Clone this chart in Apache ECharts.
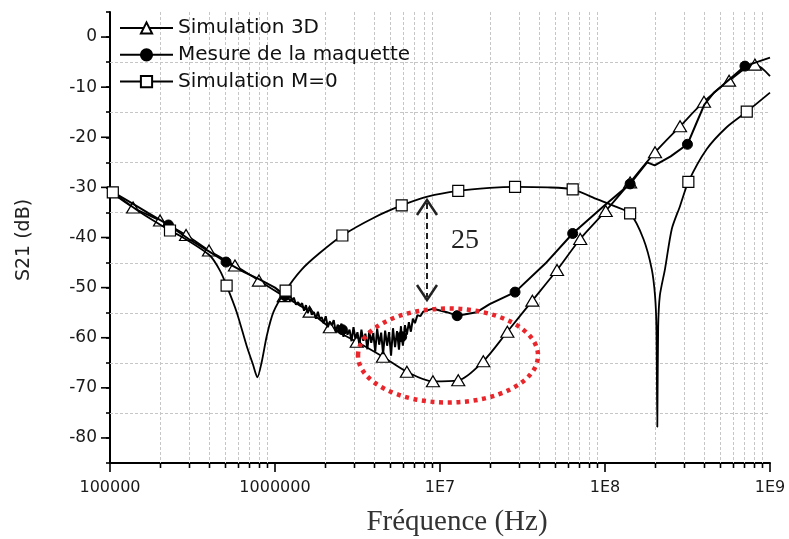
<!DOCTYPE html>
<html><head><meta charset="utf-8">
<script src="https://cdn.jsdelivr.net/npm/echarts@6/dist/echarts.min.js"></script>
<style>html,body{margin:0;padding:0;background:#fff}#c{width:789px;height:539px}</style>
</head><body><div id="c"></div>
<script>
// ---- Data (frequency in Hz, S21 in dB) ----
const seriesNames = ['Simulation 3D', 'Mesure de la maquette', 'Simulation M=0'];

// Simulation 3D: marker points (triangles) + extra curve points
const sim3dMarkFreq = [1.38e5,2.01e5,2.89e5,3.98e5,5.72e5,7.99e5,1.13e6,1.62e6,2.15e6,3.13e6,4.51e6,6.3e6,9.06e6,1.29e7,1.83e7,2.56e7,3.63e7,5.12e7,7.08e7,1.01e8,1.42e8,2.01e8,2.85e8,3.98e8,5.65e8,8.1e8];
const sim3dMarkDb   = [-34.0,-36.6,-39.5,-42.6,-45.6,-48.6,-51.7,-54.8,-57.9,-60.8,-63.8,-66.8,-68.7,-68.5,-64.7,-58.8,-52.6,-46.5,-40.3,-34.7,-29.0,-23.0,-17.8,-12.9,-8.7,-5.5];
const sim3dCurveFreq = [1e5, 1e9];
const sim3dCurveDb   = [-30.8, -7.8];

// Mesure de la maquette: marker points (filled circles) + measured curve
const mesMarkFreq = [2.26e5,5.05e5,1.15e6,2.56e6,5.86e6,1.27e7,2.85e7,6.37e7,1.42e8,3.16e8,7.05e8];
const mesMarkDb   = [-37.5,-44.9,-51.6,-58.4,-59.8,-55.6,-50.9,-39.2,-29.3,-21.4,-5.8];
const mesCurveFreq = [1e5,1.3e5,1.7e5,3.0e5,4.0e5,6.5e5,8.0e5,1.0e6,
 1.20e6,1.23e6,1.27e6,1.30e6,1.34e6,1.38e6,1.42e6,1.46e6,1.50e6,1.54e6,
 1.58e6,1.63e6,1.67e6,1.72e6,1.77e6,1.82e6,1.87e6,1.92e6,1.97e6,2.03e6,
 2.09e6,2.15e6,2.21e6,2.27e6,2.33e6,2.40e6,2.46e6,2.53e6,2.60e6,2.68e6,
 2.75e6,2.83e6,2.91e6,2.99e6,3.07e6,3.16e6,3.25e6,3.34e6,3.43e6,3.53e6,
 3.63e6,3.73e6,3.83e6,3.94e6,4.05e6,4.16e6,4.28e6,4.40e6,4.52e6,4.65e6,
 4.78e6,4.91e6,5.05e6,5.19e6,5.34e6,5.49e6,5.64e6,5.80e6,5.96e6,6.13e6,
 6.30e6,6.48e6,6.66e6,6.85e6,7.05e6,7.3e6,7.6e6,7.9e6,
 9.1e6,1.1e7,1.67e7,2.0e7,4.35e7,1.0e8,1.8e8,2.0e8,2.5e8,3.6e8,4.0e8,4.6e8,5.6e8,1e9];
const mesCurveDb = [-30.6,-32.8,-35.1,-40.3,-42.8,-46.9,-48.3,-50.0,
 -52.0,-51.4,-52.6,-52.0,-53.4,-52.9,-53.6,-53.1,-54.6,-53.5,
 -55.1,-54.0,-55.4,-54.9,-56.2,-54.8,-56.3,-55.9,-57.1,-55.7,
 -57.9,-56.8,-57.5,-56.5,-58.8,-57.4,-58.3,-57.2,-59.8,-57.9,
 -59.4,-58.4,-60.7,-57.9,-60.2,-58.9,-61.5,-58.4,-60.6,-59.2,
 -62.3,-58.6,-61.0,-59.1,-62.8,-58.2,-61.4,-59.0,-63.3,-58.6,
 -61.6,-58.9,-63.6,-58.1,-61.9,-58.7,-62.4,-57.7,-61.6,-57.5,
 -59.4,-56.9,-58.8,-56.2,-57.1,-55.5,-55.7,-54.8,
 -54.2,-54.9,-54.9,-53.3,-45.2,-33.5,-25.0,-25.6,-23.8,-17.0,-13.5,-11.0,-8.6,-4.1];

// Simulation M=0: marker points (open squares) + extra curve points
const m0MarkFreq = [1.04e5,2.31e5,5.09e5,1.16e6,2.56e6,5.86e6,1.29e7,2.85e7,6.37e7,1.42e8,3.2e8,7.23e8];
const m0MarkDb   = [-31.0,-38.6,-49.6,-50.6,-39.6,-33.6,-30.7,-29.9,-30.4,-35.2,-28.9,-14.9];
const m0CurveFreq = [1e5,1.5e5,2.77e5,4.03e5,4.64e5,5.86e5,6.73e5,7.38e5,7.82e5,8.3e5,8.92e5,9.78e5,
 1.45e6,1.85e6,4.0e6,8.5e6,2.0e7,4.5e7,9.0e7,1.15e8,1.71e8,1.92e8,2.01e8,2.05e8,2.075e8,2.1e8,2.15e8,2.31e8,2.54e8,2.85e8,4.13e8,5.46e8,1e9];
const m0CurveDb = [-30.6,-34.8,-40.0,-43.6,-46.6,-54.9,-61.6,-65.5,-67.9,-64.9,-59.6,-54.9,
 -46.4,-43.2,-36.0,-31.8,-30.1,-30.0,-32.4,-33.8,-40.3,-46.3,-51.6,-58.0,-77.8,-58.0,-51.6,-46.3,-38.3,-33.7,-22.4,-18.0,-11.1];

// Axis ticks
const xMajorTicks = [1e5, 1e6, 1e7, 1e8, 1e9];
const xTickLabels = ['100000', '1000000', '1E7', '1E8', '1E9'];
const yLabelTicks = [-80,-70,-60,-50,-40,-30,-20,-10,0];
const yMinorGrid = [-75,-65,-55,-45,-35,-25,-15,-5];

// ---- Build ----
function build(cf, cd, mf, md) {
  const pts = [];
  cf.forEach((f, i) => pts.push({ value: [f, cd[i]], symbol: 'none' }));
  mf.forEach((f, i) => pts.push({ value: [f, md[i]] }));
  pts.sort((a, b) => a.value[0] - b.value[0]);
  return pts;
}
const xMinor = [];
for (let k = 0; k < xMajorTicks.length - 1; k++) {
  for (let m = 2; m <= 9; m++) xMinor.push([xMajorTicks[k] * m, -85]);
}

const FONT = 'DejaVu Sans, Liberation Sans, Arial';
const chart = echarts.init(document.getElementById('c'), null, { renderer: 'canvas' });
const gridStroke = '#c6c6c6';
chart.setOption({
  animation: false,
  backgroundColor: '#fff',
  grid: { left: 110, right: 19, top: 12, bottom: 76 },
  legend: {
    data: seriesNames, orient: 'vertical', left: 119, top: 18, padding: 0,
    itemWidth: 53, itemHeight: 14, itemGap: 6.8, selectedMode: false,
    textStyle: { fontFamily: FONT, fontSize: 20, lineHeight: 20, color: '#111' }
  },
  xAxis: {
    type: 'log', logBase: 10, min: 1e5, max: 1e9,
    axisLine: { show: true, onZero: false, lineStyle: { color: '#000', width: 2 } },
    axisTick: { show: true, length: 9, lineStyle: { color: '#000', width: 1.6 } },
    axisLabel: {
      margin: 17, fontSize: 16, color: '#1a1a1a', fontFamily: FONT,
      formatter: v => { const i = xMajorTicks.findIndex(t => Math.abs(t - v) / t < 1e-6); return i >= 0 ? xTickLabels[i] : ''; }
    },
    splitLine: { show: false }, minorTick: { show: false }
  },
  yAxis: {
    type: 'value', min: -85, max: 5, interval: 5,
    axisLine: { show: true, onZero: false, lineStyle: { color: '#000', width: 2 } },
    axisTick: { show: true, length: 4, lineStyle: { color: '#000', width: 1.6 } },
    axisLabel: {
      margin: 13, fontSize: 17, color: '#1a1a1a', fontFamily: FONT,
      formatter: v => (yLabelTicks.indexOf(v) >= 0 ? String(v) : '')
    },
    splitLine: { show: false }
  },
  series: [
    { // vertical minor grid + minor ticks
      type: 'custom', silent: true, z: 1, data: xMinor,
      renderItem: (params, api) => {
        const x = Math.round(api.coord([api.value(0), -85])[0]) + 0.5;
        const cs = params.coordSys;
        return { type: 'group', children: [
          { type: 'line', shape: { x1: x, y1: cs.y, x2: x, y2: cs.y + cs.height }, style: { stroke: gridStroke, lineWidth: 1, lineDash: [3, 2] } },
          { type: 'line', shape: { x1: x, y1: cs.y + cs.height, x2: x, y2: cs.y + cs.height + 5 }, style: { stroke: '#000', lineWidth: 1.6 } }
        ] };
      }
    },
    { // horizontal minor grid
      type: 'custom', silent: true, z: 1, data: yMinorGrid.map(v => [1e5, v]),
      renderItem: (params, api) => {
        const y = Math.round(api.coord([1e5, api.value(1)])[1]) + 0.5;
        const cs = params.coordSys;
        return { type: 'line', shape: { x1: cs.x, y1: y, x2: cs.x + cs.width, y2: y }, style: { stroke: gridStroke, lineWidth: 1, lineDash: [3, 2] } };
      }
    },
    { // major y ticks (longer)
      type: 'custom', silent: true, z: 1, data: yLabelTicks.map(v => [1e5, v]),
      renderItem: (params, api) => {
        const y = api.coord([1e5, api.value(1)])[1];
        const cs = params.coordSys;
        return { type: 'line', shape: { x1: cs.x - 9, y1: y, x2: cs.x, y2: y }, style: { stroke: '#000', lineWidth: 1.6 } };
      }
    },
    {
      name: seriesNames[0], type: 'line', z: 3,
      data: build(sim3dCurveFreq, sim3dCurveDb, sim3dMarkFreq, sim3dMarkDb),
      symbol: 'triangle', symbolSize: [13, 11], showSymbol: true, showAllSymbol: true, smooth: 0.3,
      lineStyle: { color: '#000', width: 1.8 },
      itemStyle: { color: '#fff', borderColor: '#000', borderWidth: 1.2 }
    },
    {
      name: seriesNames[1], type: 'line', z: 4,
      data: build(mesCurveFreq, mesCurveDb, mesMarkFreq, mesMarkDb),
      symbol: 'circle', symbolSize: 10, showSymbol: true, showAllSymbol: true,
      lineStyle: { color: '#000', width: 2 },
      itemStyle: { color: '#000', borderColor: '#000', borderWidth: 1 }
    },
    {
      name: seriesNames[2], type: 'line', z: 5,
      data: build(m0CurveFreq, m0CurveDb, m0MarkFreq, m0MarkDb),
      symbol: 'rect', symbolSize: 11, showSymbol: true, showAllSymbol: true, smooth: 0.25,
      lineStyle: { color: '#000', width: 1.8 },
      itemStyle: { color: '#fff', borderColor: '#000', borderWidth: 1.2 }
    }
  ],
  graphic: [
    { type: 'ellipse', z: 100, shape: { cx: 448, cy: 355.5, rx: 90, ry: 47 },
      style: { fill: 'none', stroke: '#e8262b', lineWidth: 4.5, lineDash: [4, 4.6] } },
    { type: 'line', z: 100, shape: { x1: 427, y1: 203, x2: 427, y2: 297 },
      style: { stroke: '#222', lineWidth: 2, lineDash: [6, 4] } },
    { type: 'polyline', z: 100, shape: { points: [[417, 215], [427, 200], [437, 215]] },
      style: { stroke: '#222', lineWidth: 2.5, fill: 'none' } },
    { type: 'polyline', z: 100, shape: { points: [[417, 285], [427, 300], [437, 285]] },
      style: { stroke: '#222', lineWidth: 2.5, fill: 'none' } },
    { type: 'text', z: 100, x: 465, y: 241,
      style: { text: '25', font: '28px "Liberation Serif"', fill: '#222', align: 'center', verticalAlign: 'middle' } },
    { type: 'text', z: 100, x: 457, y: 522,
      style: { text: 'Fréquence (Hz)', font: '29px "Liberation Serif"', fill: '#333', align: 'center', verticalAlign: 'middle' } },
    { type: 'text', z: 100, x: 24, y: 240, rotation: Math.PI / 2,
      style: { text: 'S21 (dB)', font: '19px "DejaVu Sans"', fill: '#222', align: 'center', verticalAlign: 'middle' } }
  ]
});
</script>
</body></html>
